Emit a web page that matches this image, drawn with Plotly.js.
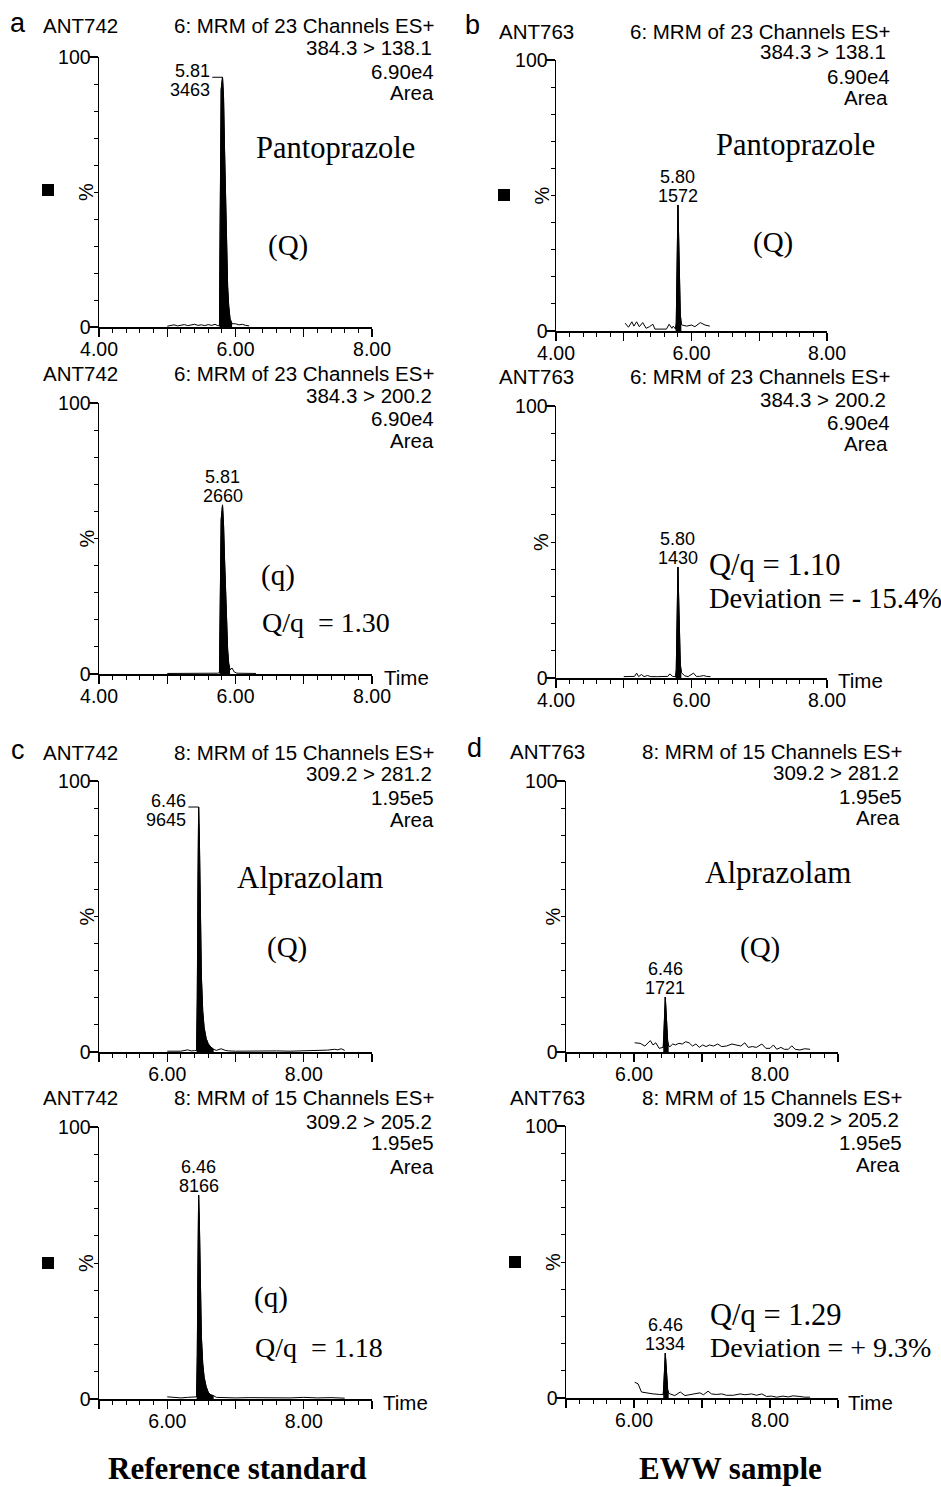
<!DOCTYPE html>
<html><head><meta charset="utf-8">
<script src="https://cdn.plot.ly/plotly-3.0.1.min.js"></script>
<style>html,body{margin:0;padding:0;background:#fff}</style>
</head><body><div id="chart" style="width:941px;height:1487px"></div>
<script>
// ---------- DATA ----------
// a (top): Pantoprazole Q, reference standard
const tA1 = [5.00,5.05,5.10,5.15,5.20,5.25,5.30,5.35,5.40,5.45,5.50,5.55,5.60,5.65,5.70,5.74,5.765,5.772,5.78,5.79,5.81,5.825,5.84,5.855,5.87,5.885,5.90,5.92,5.95,6.00,6.05,6.10,6.15,6.20];
const iA1 = [0.3,0.5,0.8,0.4,0.6,0.9,0.5,0.7,1.0,0.6,0.8,0.5,0.9,0.6,1.0,0.5,0.5,30,70,88,92.5,85,65,45,28,15,8,3,1.2,1.2,0.8,1.0,0.6,0.4];
const pkWinA1 = [5.765,5.95];
// a (bottom): Pantoprazole q, reference standard
const tA2 = [5.00,5.20,5.40,5.60,5.74,5.765,5.772,5.78,5.79,5.81,5.825,5.84,5.855,5.87,5.885,5.90,5.92,5.95,5.98,6.02,6.10,6.20,6.30];
const iA2 = [0.2,0.2,0.2,0.3,0.3,0.5,20,45,57,62.4,55,42,28,17,9,4,1.5,2.2,0.8,0.3,0.2,0.2,0.2];
const pkWinA2 = [5.765,5.92];
// b (top): Pantoprazole Q, EWW sample
const tB1 = [5.02,5.07,5.12,5.15,5.19,5.23,5.28,5.33,5.38,5.43,5.46,5.50,5.55,5.59,5.63,5.67,5.71,5.73,5.765,5.775,5.785,5.795,5.80,5.81,5.82,5.835,5.85,5.86,5.93,6.00,6.05,6.09,6.13,6.20,6.27];
const iB1 = [2.9,1.4,3.4,1.8,3.4,1.6,3.1,1.0,1.6,2.5,0.7,0.7,0.6,0.7,0.7,2.5,1.0,1.8,0.7,3,20,40,46.5,35,18,6,2.5,2.2,1.8,2.2,1.6,2.4,3.1,2.2,1.8];
const pkWinB1 = [5.765,5.85];
// b (bottom): Pantoprazole q, EWW sample
const tB2 = [5.00,5.10,5.16,5.19,5.22,5.26,5.30,5.35,5.40,5.50,5.60,5.65,5.68,5.72,5.765,5.775,5.785,5.795,5.80,5.81,5.82,5.835,5.85,5.90,5.95,6.00,6.03,6.07,6.12,6.18,6.22,6.28];
const iB2 = [0.5,0.5,0.6,1.8,0.5,1.3,0.5,0.9,0.5,0.5,0.5,0.6,1.5,0.6,0.5,3,18,35,40.8,30,15,5,2,0.8,0.5,1.4,1.8,0.6,0.6,0.9,0.6,0.5];
const pkWinB2 = [5.765,5.85];
// c (top): Alprazolam Q, reference standard
const tC1 = [6.00,6.10,6.20,6.30,6.35,6.40,6.43,6.44,6.45,6.46,6.47,6.48,6.49,6.50,6.52,6.54,6.57,6.60,6.64,6.68,6.72,6.79,6.85,6.90,7.00,7.20,7.40,7.60,7.80,8.00,8.20,8.35,8.45,8.50,8.55,8.60];
const iC1 = [0.3,0.4,0.3,0.8,0.4,0.5,0.6,20,65,90.4,80,60,42,28,15,9,5,3,1.8,1.0,0.6,1.2,0.6,0.4,0.3,0.4,0.3,0.4,0.3,0.4,0.5,0.7,1.0,0.8,1.2,0.6];
const pkWinC1 = [6.43,6.68];
// c (bottom): Alprazolam q, reference standard
const tC2 = [6.00,6.10,6.20,6.30,6.38,6.43,6.44,6.45,6.46,6.47,6.48,6.49,6.50,6.52,6.54,6.57,6.60,6.64,6.68,6.72,6.80,7.00,7.20,7.40,7.60,7.80,8.00,8.20,8.40,8.60];
const iC2 = [0.8,0.5,0.4,0.6,0.8,0.8,16,52,75,66,50,35,23,13,8,4.5,2.5,1.5,1.2,0.6,0.5,0.4,0.5,0.4,0.5,0.4,0.6,0.4,0.5,0.3];
const pkWinC2 = [6.43,6.68];
// d (top): Alprazolam Q, EWW sample
const tD1 = [6.01,6.09,6.16,6.24,6.28,6.32,6.37,6.43,6.44,6.45,6.46,6.47,6.48,6.495,6.51,6.53,6.57,6.61,6.66,6.71,6.76,6.81,6.86,6.91,6.96,7.01,7.06,7.11,7.17,7.23,7.29,7.36,7.44,7.51,7.57,7.63,7.68,7.74,7.80,7.88,7.94,8.00,8.05,8.10,8.16,8.21,8.27,8.32,8.37,8.44,8.51,8.59];
const iD1 = [3.4,3.2,2.2,4.2,2.6,3.4,1.35,1.7,6,14,20.3,16,9,4,2.2,2.0,2.95,2.6,3.2,2.95,3.8,3.4,2.2,2.95,1.7,2.6,2.0,2.6,2.2,2.95,2.0,2.2,2.95,2.6,2.2,3.4,1.7,2.0,1.7,2.95,1.35,1.35,2.6,1.0,1.7,1.0,1.0,2.3,1.0,0.75,1.2,1.0];
const pkWinD1 = [6.43,6.51];
// d (bottom): Alprazolam q, EWW sample
const tD2 = [6.01,6.06,6.11,6.19,6.28,6.38,6.43,6.44,6.45,6.46,6.47,6.48,6.495,6.51,6.53,6.60,6.68,6.75,6.82,6.90,6.97,7.02,7.09,7.14,7.21,7.29,7.36,7.46,7.56,7.63,7.73,7.80,7.88,7.95,8.02,8.10,8.19,8.27,8.34,8.44,8.51,8.59];
const iD2 = [5.8,5.2,2.2,1.8,1.5,1.3,1.3,5,11,16.5,13,7,3,1.8,1.5,0.9,2.2,0.9,1.3,1.5,1.9,1.2,2.5,1.5,1.3,1.5,1.0,1.0,1.5,1.2,1.5,1.0,1.5,0.55,0.7,0.3,0.7,0.4,0.8,0.55,0.3,0.3];
const pkWinD2 = [6.43,6.51];

// peak labels (retention time, area)
const pkTimeLabels = ['5.81','5.81','5.80','5.80','6.46','6.46','6.46','6.46'];
const pkAreaLabels = ['3463','2660','1572','1430','9645','8166','1721','1334'];

// x tick labels
const xTicksAB = [4,5,6,7,8];
const xTextAB  = ['4.00','','6.00','','8.00'];
const xTicksCD = [5,6,7,8,9];
const xTextCD  = ['','6.00','','8.00',''];
const yTicks = [0,100];
const yText  = ['0','100'];

// header texts
const sampleNames = ['ANT742','ANT742','ANT763','ANT763','ANT742','ANT742','ANT763','ANT763'];
const funcNames = ['6: MRM of 23 Channels ES+','6: MRM of 23 Channels ES+','6: MRM of 23 Channels ES+','6: MRM of 23 Channels ES+',
                   '8: MRM of 15 Channels ES+','8: MRM of 15 Channels ES+','8: MRM of 15 Channels ES+','8: MRM of 15 Channels ES+'];
const transitions = ['384.3 > 138.1','384.3 > 200.2','384.3 > 138.1','384.3 > 200.2','309.2 > 281.2','309.2 > 205.2','309.2 > 281.2','309.2 > 205.2'];
const scales = ['6.90e4','6.90e4','6.90e4','6.90e4','1.95e5','1.95e5','1.95e5','1.95e5'];

// ---------- LAYOUT ----------
const W = 941, H = 1487;
const SANS = 'Liberation Sans, Arial, sans-serif';
const SERIF = 'Liberation Serif, Times New Roman, serif';

const panels = [
  {t:tA1, v:iA1, win:pkWinA1, bracket:true,  xr:[4,8], xt:xTicksAB, xtt:xTextAB, px:[99,372], py:[57,327],
   hdr:{left:42, right:[435,433,435,435], ys:[25,48,71,92]}, pct:86, sq:[48,190], time:null},
  {t:tA2, v:iA2, win:pkWinA2, bracket:false, xr:[4,8], xt:xTicksAB, xtt:xTextAB, px:[99,372], py:[403,674],
   hdr:{left:42, right:[435,433,435,435], ys:[373,396,419,441]}, pct:86, sq:null, time:[383,677]},
  {t:tB1, v:iB1, win:pkWinB1, bracket:false, xr:[4,8], xt:xTicksAB, xtt:xTextAB, px:[556,827], py:[60,331],
   hdr:{left:498, right:[891,887,891,889], ys:[31,51,76,97]}, pct:541, sq:[504,195], time:null},
  {t:tB2, v:iB2, win:pkWinB2, bracket:false, xr:[4,8], xt:xTicksAB, xtt:xTextAB, px:[556,827], py:[406,678],
   hdr:{left:498, right:[891,887,891,889], ys:[377,399,422,444]}, pct:541, sq:null, time:[837,680]},
  {t:tC1, v:iC1, win:pkWinC1, bracket:true,  xr:[5,9], xt:xTicksCD, xtt:xTextCD, px:[99,372], py:[781,1052],
   hdr:{left:42, right:[435,433,435,435], ys:[752,774,797,819]}, pct:86, sq:null, time:null},
  {t:tC2, v:iC2, win:pkWinC2, bracket:false, xr:[5,9], xt:xTicksCD, xtt:xTextCD, px:[99,372], py:[1127,1399],
   hdr:{left:42, right:[435,433,435,435], ys:[1097,1121,1142,1166]}, pct:86, sq:[48,1263], time:[382,1402]},
  {t:tD1, v:iD1, win:pkWinD1, bracket:false, xr:[5,9], xt:xTicksCD, xtt:xTextCD, px:[566,838], py:[781,1052],
   hdr:{left:509, right:[903,900,903,901], ys:[751,772,796,817]}, pct:552, sq:null, time:null},
  {t:tD2, v:iD2, win:pkWinD2, bracket:false, xr:[5,9], xt:xTicksCD, xtt:xTextCD, px:[566,838], py:[1126,1398],
   hdr:{left:509, right:[903,900,903,901], ys:[1097,1119,1142,1164]}, pct:553, sq:[515,1262], time:[847,1402]}
];

function paperAnn(text, x, y, opt) {
  opt = opt || {};
  return Object.assign({
    text: text, x: x / W, y: 1 - y / H, xref: 'paper', yref: 'paper',
    showarrow: false, xanchor: 'center', yanchor: 'middle', borderpad: 0,
    font: {family: SANS, size: 20.5, color: '#000'}
  }, opt);
}

const traces = [];
const annotations = [];
const shapes = [];
const layout = {
  width: W, height: H, margin: {l:0, r:0, t:0, b:0},
  paper_bgcolor: '#fff', plot_bgcolor: 'rgba(0,0,0,0)', showlegend: false
};

panels.forEach((p, k) => {
  const sfx = k === 0 ? '' : String(k + 1);
  const xr = 'x' + sfx, yr = 'y' + sfx;
  const minorX = [];
  for (let m = Math.round(p.xr[0] * 5); m <= Math.round(p.xr[1] * 5); m++) {
    if (m % 5 !== 0) minorX.push(m / 5);
  }
  const minorY = [];
  for (let m = 10; m < 100; m += 10) minorY.push(m);

  layout['xaxis' + sfx] = {
    domain: [p.px[0] / W, p.px[1] / W], range: p.xr, anchor: yr,
    showline: true, linecolor: '#000', linewidth: 1.5, mirror: false,
    ticks: 'outside', ticklen: 8, tickwidth: 1.2, tickcolor: '#000',
    tickmode: 'array', tickvals: p.xt, ticktext: p.xtt, ticklabelstandoff: -4,
    tickfont: {family: SANS, size: 19.5, color: '#000'},
    minor: {tickmode: 'array', tickvals: minorX, ticks: 'outside', ticklen: 4, tickwidth: 1, tickcolor: '#000', showgrid: false},
    showgrid: false, zeroline: false, fixedrange: true
  };
  layout['yaxis' + sfx] = {
    domain: [1 - p.py[1] / H, 1 - p.py[0] / H], range: [0, 100], anchor: xr,
    showline: true, linecolor: '#000', linewidth: 1.5,
    ticks: 'outside', ticklen: 9, tickwidth: 1.2, tickcolor: '#000',
    tickmode: 'array', tickvals: yTicks, ticktext: yText, ticklabelstandoff: -6,
    tickfont: {family: SANS, size: 19.5, color: '#000'},
    minor: {tickmode: 'array', tickvals: minorY, ticks: 'outside', ticklen: 4, tickwidth: 1, tickcolor: '#000', showgrid: false},
    showgrid: false, zeroline: false, fixedrange: true
  };

  // chromatogram line
  traces.push({x: p.t, y: p.v, mode: 'lines', line: {color: '#000', width: 1}, xaxis: xr, yaxis: yr, hoverinfo: 'skip'});
  // filled peak
  const fx = [], fy = [];
  p.t.forEach((tt, i) => { if (tt >= p.win[0] && tt <= p.win[1]) { fx.push(tt); fy.push(p.v[i]); } });
  traces.push({x: fx, y: fy, mode: 'lines', fill: 'tozeroy', fillcolor: '#000', line: {color: '#000', width: 1}, xaxis: xr, yaxis: yr, hoverinfo: 'skip'});

  // peak apex from data
  let im = 0; p.v.forEach((vv, i) => { if (vv > p.v[im]) im = i; });
  const pt = p.t[im], pv = p.v[im];
  const lf = {family: SANS, size: 18, color: '#000'};
  if (p.bracket) {
    const off = 0.15;
    traces.push({x: [pt - off, pt], y: [pv, pv], mode: 'lines', line: {color: '#000', width: 1}, xaxis: xr, yaxis: yr, hoverinfo: 'skip'});
    annotations.push({text: pkTimeLabels[k], x: pt - off, y: pv, xref: xr, yref: yr, showarrow: false, xanchor: 'right', yanchor: 'middle', yshift: 6, font: lf});
    annotations.push({text: pkAreaLabels[k], x: pt - off, y: pv, xref: xr, yref: yr, showarrow: false, xanchor: 'right', yanchor: 'middle', yshift: -13, font: lf});
  } else {
    annotations.push({text: pkTimeLabels[k], x: pt, y: pv, xref: xr, yref: yr, showarrow: false, xanchor: 'center', yanchor: 'middle', yshift: 28, font: lf});
    annotations.push({text: pkAreaLabels[k], x: pt, y: pv, xref: xr, yref: yr, showarrow: false, xanchor: 'center', yanchor: 'middle', yshift: 9, font: lf});
  }

  // headers
  annotations.push(paperAnn(sampleNames[k], p.hdr.left, p.hdr.ys[0], {xanchor: 'left'}));
  const rlines = [funcNames[k], transitions[k], scales[k], 'Area'];
  rlines.forEach((s, j) => annotations.push(paperAnn(s, p.hdr.right[j], p.hdr.ys[j], {xanchor: 'right'})));

  // "%" axis label at 50
  annotations.push({text: '%', x: p.pct / W, y: 50, xref: 'paper', yref: yr, showarrow: false, textangle: -90,
    xanchor: 'center', yanchor: 'middle', font: {family: SANS, size: 20, color: '#000'}});

  if (p.time) annotations.push(paperAnn('Time', p.time[0], p.time[1], {xanchor: 'left'}));
  if (p.sq) shapes.push({type: 'rect', xref: 'paper', yref: 'paper',
    x0: (p.sq[0] - 6) / W, x1: (p.sq[0] + 6) / W, y0: 1 - (p.sq[1] + 6) / H, y1: 1 - (p.sq[1] - 6) / H,
    fillcolor: '#000', line: {width: 0}});
});

// panel letters
[['a',18,23],['b',472,25],['c',18,750],['d',474,748]].forEach(a =>
  annotations.push(paperAnn(a[0], a[1], a[2], {font: {family: SANS, size: 27, color: '#000'}})));

// compound / ratio texts (serif)
const sf = (s) => ({family: SERIF, size: s, color: '#000'});
[
  ['Pantoprazole', 335, 148, 'center', 30.5],
  ['(Q)', 288, 245, 'center', 29],
  ['Pantoprazole', 795, 145, 'center', 30.5],
  ['(Q)', 773, 243, 'center', 29],
  ['(q)', 278, 575, 'center', 29],
  ['Q/q \u00a0= 1.30', 261, 622, 'left', 28],
  ['Q/q = 1.10', 708, 565, 'left', 30.5],
  ['Deviation = - 15.4%', 708, 598, 'left', 28.5],
  ['Alprazolam', 310, 877, 'center', 31],
  ['(Q)', 287, 947, 'center', 29],
  ['Alprazolam', 778, 873, 'center', 31],
  ['(Q)', 760, 947, 'center', 29],
  ['(q)', 271, 1297, 'center', 29],
  ['Q/q \u00a0= 1.18', 254, 1347, 'left', 28],
  ['Q/q = 1.29', 709, 1315, 'left', 30.5],
  ['Deviation = + 9.3%', 709, 1347, 'left', 28]
].forEach(a => annotations.push(paperAnn(a[0], a[1], a[2], {xanchor: a[3], font: sf(a[4])})));

annotations.push(paperAnn('<b>Reference standard</b>', 237, 1468, {font: sf(31)}));
annotations.push(paperAnn('<b>EWW sample</b>', 730, 1468, {font: sf(31)}));

layout.annotations = annotations;
layout.shapes = shapes;

Plotly.newPlot('chart', traces, layout, {staticPlot: true, displayModeBar: false});
</script></body></html>
